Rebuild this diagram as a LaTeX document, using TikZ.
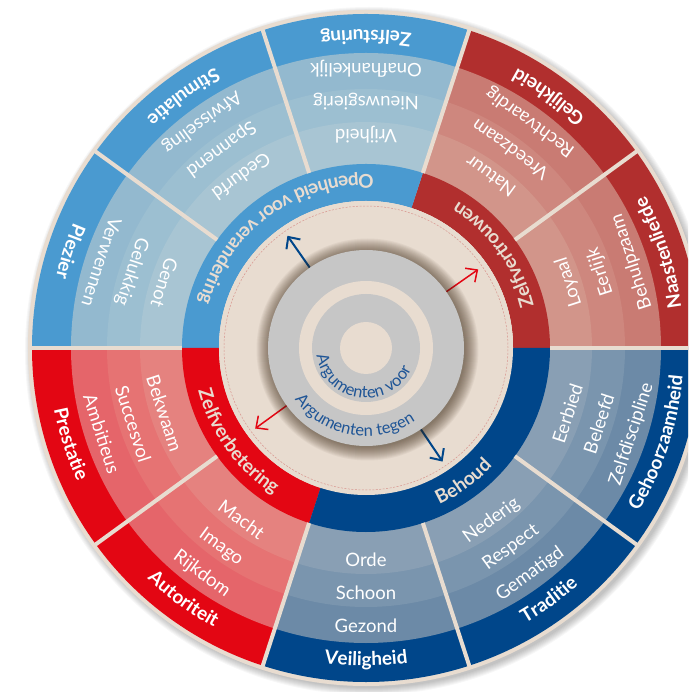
\documentclass[tikz,border=0pt]{standalone}
\usepackage{fontspec}
\setmainfont{Lato}
\usetikzlibrary{decorations.text,arrows.meta}

\definecolor{wheeltan}{HTML}{E8DCD0}
\definecolor{discgrey}{HTML}{C6C6C6}
\definecolor{argblue}{HTML}{1F5596}
% Openheid voor verandering
\definecolor{ovdark}{HTML}{4A9AD0}
\definecolor{ovout}{HTML}{93B9CF}
\definecolor{ovmid}{HTML}{9CBFD1}
\definecolor{ovin}{HTML}{A8C5D3}
% Zelfvertrouwen
\definecolor{ztdark}{HTML}{B12F2E}
\definecolor{ztout}{HTML}{C97B73}
\definecolor{ztmid}{HTML}{CE877E}
\definecolor{ztin}{HTML}{D2958A}
% Zelfverbetering
\definecolor{zbdark}{HTML}{E30613}
\definecolor{zbout}{HTML}{E5656A}
\definecolor{zbmid}{HTML}{E67373}
\definecolor{zbin}{HTML}{E5827F}
% Behoud
\definecolor{bhdark}{HTML}{00468A}
\definecolor{bhout}{HTML}{6C8AA7}
\definecolor{bhmid}{HTML}{7A95AE}
\definecolor{bhin}{HTML}{899FB4}

\newcommand\lblfont{\fontsize{19}{21}\selectfont\bfseries\color{white}}
\newcommand\grpfont{\fontsize{19}{21}\selectfont\bfseries\color{wheeltan}}
\newcommand\argfont{\fontsize{16.5}{18}\selectfont\color{argblue}}

% colour, start angle, span, radius
\newcommand\slice[4]{\fill[#1] (0,0) -- (#2:#4) arc[start angle=#2, delta angle=#3, radius=#4] -- cycle;}
% format, centre angle, half span, baseline radius, text
\newcommand\ringtext[5]{\path[decorate, decoration={text along path, text align=center, text={|#1|#5}}]
  (#2-#3:#4) arc[start angle=#2-#3, delta angle=2*#3, radius=#4];}

\begin{document}
\begin{tikzpicture}[x=1pt,y=1pt,
    arw/.style={line width=2pt,-{Straight Barb[length=9pt,width=17pt]}},
    val/.style={anchor=base,inner sep=0pt,text=white,font=\fontsize{18.5}{20}\selectfont}]
  \fill[white] (-366,-344) rectangle (322,348);
  \useasboundingbox (-366,-344) rectangle (322,348);
  \clip (-366,-344) rectangle (322,348);

  % wheel
  \foreach \i in {1,...,8}
    \fill[black,opacity=.03] (3,-3) circle[radius=336+\i];
  \fill[wheeltan] (0,0) circle[radius=338];
  \foreach \a/\g in {0/zt,36/zt,72/ov,108/ov,144/ov,180/zb,216/zb,252/bh,288/bh,324/bh} {
    \slice{\g dark}{\a}{36}{334}
    \slice{\g out}{\a}{36}{295}
    \slice{\g mid}{\a}{36}{259}
    \slice{\g in}{\a}{36}{226}
  }
  \foreach \a/\s/\g in {0/72/zt,72/108/ov,180/72/zb,252/108/bh}
    \slice{\g dark}{\a}{\s}{184}
  \fill[wheeltan] (0,0) circle[radius=147];
  \draw[red!30!wheeltan!80!gray,line width=.5pt,dash pattern=on 2pt off 1.5pt] (0,0) circle[radius=142];
  \foreach \a in {0,36,...,324}
    \draw[wheeltan,line width=4pt] (\a:184) -- (\a:336);

  % arrows
  \coordinate (ovA) at (125:90);  \coordinate (ovB) at (125:137);
  \coordinate (ztA) at (35:90);   \coordinate (ztB) at (35:137);
  \coordinate (zbA) at (216:90);  \coordinate (zbB) at (216:137);
  \coordinate (bhA) at (304:90);  \coordinate (bhB) at (304:137);
  \draw[arw,bhdark] (ovA) -- (ovB);
  \draw[arw,zbdark,line width=1.5pt] (ztA) -- (ztB);
  \draw[arw,zbdark,line width=1.5pt] (zbA) -- (zbB);
  \draw[arw,bhdark] (bhA) -- (bhB);

  % centre disc
  \foreach \i in {1,...,14}
    \fill[black!70!brown,opacity=.05] (1.5,-1.5) circle[radius=97+\i];
  \fill[discgrey] (0,0) circle[radius=98];
  \fill[wheeltan] (0,0) circle[radius=67];
  \fill[discgrey] (0,0) circle[radius=54];
  \fill[wheeltan] (0,0) circle[radius=26];

  % values, inner to outer
  \foreach \m/\wa/\wb/\wc in {
      18/Loyaal/Eerlijk/Behulpzaam,
      54/Natuur/Vreedzaam/Rechtvaardig,
      90/Vrijheid/Nieuwsgierig/Onafhankelijk,
      126/Gedurfd/Spannend/Afwisseling,
      162/Genot/Gelukkig/Verwennen,
      198/Bekwaam/Succesvol/Ambitieus,
      234/Macht/Imago/Rijkdom,
      270/Orde/Schoon/Gezond,
      306/Nederig/Respect/Gematigd,
      342/Eerbied/Beleefd/Zelfdiscipline} {
    \node[val,rotate=\m+90] (val\m a) at (\m:218.5) {\wa};
    \node[val,rotate=\m+90] (val\m b) at (\m:251.5) {\wb};
    \node[val,rotate=\m+90] (val\m c) at (\m:284.5) {\wc};
  }

  % labels
  \ringtext{\lblfont}{18}{18}{318}{Naastenliefde}
  \ringtext{\lblfont}{54}{18}{318}{Gelijkheid}
  \ringtext{\lblfont}{90}{18}{318}{Zelfsturing}
  \ringtext{\lblfont}{126}{18}{318}{Stimulatie}
  \ringtext{\lblfont}{162}{18}{318}{Plezier}
  \ringtext{\lblfont}{198}{18}{318}{Prestatie}
  \ringtext{\lblfont}{234}{18}{318}{Autoriteit}
  \ringtext{\lblfont}{270}{18}{318}{Veiligheid}
  \ringtext{\lblfont}{306}{18}{318}{Traditie}
  \ringtext{\lblfont}{342}{18}{318}{Gehoorzaamheid}

  % groups
  \ringtext{\grpfont}{126}{54}{173}{Openheid voor verandering}
  \ringtext{\grpfont}{36}{36}{173}{Zelfvertrouwen}
  \ringtext{\grpfont}{216}{36}{173}{Zelfverbetering}
  \ringtext{\grpfont}{306}{54}{173}{Behoud}

  % centre
  \ringtext{\argfont}{262}{100}{50}{Argumenten voor}
  \ringtext{\argfont}{260}{80}{88}{Argumenten tegen}
\end{tikzpicture}
\end{document}
